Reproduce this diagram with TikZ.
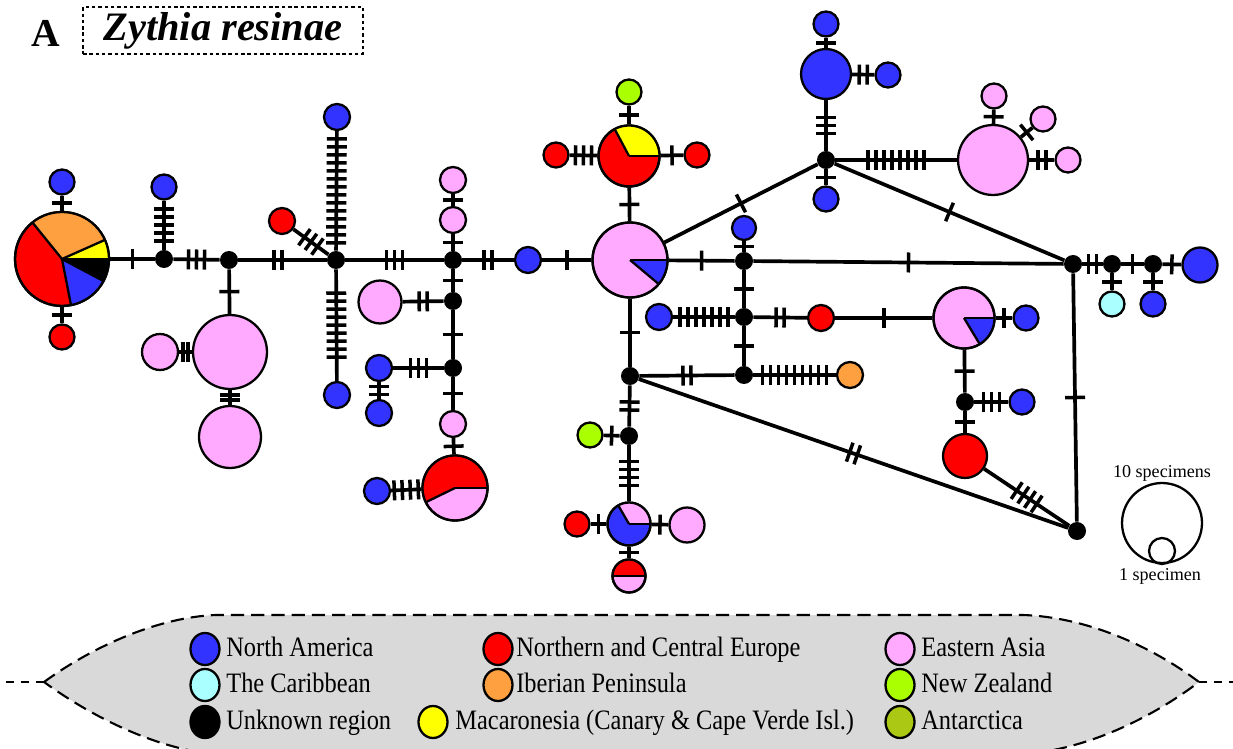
\documentclass[tikz,border=0pt]{standalone}
\usepackage{fontspec}
\usepackage{graphicx}
\setmainfont{Liberation Serif}
\usetikzlibrary{decorations.markings,shapes.geometric}

\definecolor{NA}{RGB}{51,51,255}
\definecolor{EU}{RGB}{255,0,0}
\definecolor{EA}{RGB}{255,170,255}
\definecolor{CA}{RGB}{170,255,255}
\definecolor{IB}{RGB}{255,160,64}
\definecolor{NZ}{RGB}{170,255,0}
\definecolor{MA}{RGB}{255,255,0}
\definecolor{AN}{RGB}{170,200,20}
\definecolor{legbg}{RGB}{217,217,217}

\tikzset{
  hap/.style={circle, draw, line width=1.3pt, inner sep=0pt, minimum size=#1*0.04cm},
  med/.style={circle, fill=black, inner sep=0pt, minimum size=18*0.02cm},
  link/.style={line width=2.1pt},
  % n mutation ticks centred at a position along the link, with a given spacing
  mutg/.style n args={3}{postaction={decorate, decoration={markings,
      mark=at position #2 with {\foreach \k in {1,...,#1}{
        \draw[line width=2pt] ({(\k-(#1+1)/2)*#3},-10) -- ({(\k-(#1+1)/2)*#3},10);}}}}},
  mu/.style={mutg={#1}{0.5}{8}},
  mup/.style 2 args={mutg={#1}{#2}{8}},
  mutight/.style={mutg={2}{0.5}{4.8}},
  legdot/.style={ellipse, draw, line width=1.3pt, inner sep=0pt,
      minimum width=29*0.02cm, minimum height=32*0.02cm, fill=#1},
  legtext/.style={anchor=base west, inner sep=0pt, font=\fontsize{13.9}{16}\selectfont},
}

% coloured sector of a pie-chart haplotype
\newcommand\hapwedge[5]{%
  \fill[#5] (#1.center) -- ++(#3:#2) arc[start angle=#3, end angle=#4, radius=#2] -- cycle;}
% dividing spokes and outline of a pie-chart haplotype
\newcommand\hapspokes[3]{%
  \foreach \a in {#3} {\draw[line width=1.3pt] (#1.center) -- ++(\a:#2);}
  \draw[line width=1.3pt] (#1.center) circle[radius=#2];}
% one legend row entry
\newcommand\legitem[6]{%
  \node[legdot=#4] (#6dot) at (#1,#2) {};
  \node[legtext] (#6txt) at (#3,#2-7.5) {\scalebox{1}[1.15]{#5}};}

\begin{document}
\begin{tikzpicture}[x=0.02cm, y=0.02cm]
\useasboundingbox (0,0) rectangle (1233,-749);

% ---------- heading ----------
\node[font=\fontsize{22.5}{26}\selectfont\bfseries] (panel) at (46,-33) {A};
\node[draw, dash pattern=on 2pt off 1.6pt, line width=1.1pt, inner sep=0pt,
      minimum width=280*0.02cm, minimum height=47*0.02cm,
      font=\fontsize{23}{26}\selectfont\bfseries\itshape] (species) at (223,-30.5) {Zythia resinae};

% ---------- haplotypes: left cluster ----------
\node[hap=47, fill=EU] (pA) at (62,-259) {};
\node[hap=12.5, fill=NA] (nA1) at (62,-182) {};
\node[hap=12.5, fill=EU] (nA2) at (62,-337) {};
\node[med] (m1) at (164,-259) {};
\node[hap=12.5, fill=NA] (nB) at (164,-187) {};
\node[med] (m2) at (229,-260) {};
\node[hap=37, fill=EA] (pC) at (230,-352) {};
\node[hap=18, fill=EA] (nC1) at (160,-352) {};
\node[hap=31, fill=EA] (pD) at (230,-437) {};
\node[med] (H) at (336,-260) {};
\node[hap=13, fill=NA] (nE1) at (337,-117) {};
\node[hap=13, fill=NA] (nE2) at (337,-395) {};
\node[hap=13, fill=EU] (nE3) at (282,-221) {};
\node[med] (m3) at (453,-260) {};
\node[hap=13, fill=EA] (nF1) at (453,-220) {};
\node[hap=13, fill=EA] (nF2) at (453,-180) {};
\node[med] (m4) at (453,-301) {};
\node[hap=21.5, fill=EA] (nG) at (380,-302) {};
\node[med] (m5) at (453,-368) {};
\node[hap=13, fill=NA] (nH1) at (379,-368) {};
\node[hap=13, fill=NA] (nH2) at (379,-413) {};
\node[hap=13, fill=EA] (nI) at (453,-424) {};
\node[hap=32.5, fill=EA] (pJ) at (455,-488) {};
\node[hap=13, fill=NA] (nK) at (377,-491) {};
\node[hap=13, fill=NA] (nL) at (528,-260) {};

% ---------- haplotypes: centre ----------
\node[hap=37.5, fill=EA] (P1) at (630,-260) {};
\node[hap=30.5, fill=EU] (P2) at (629,-156) {};
\node[hap=12.5, fill=NZ] (nM1) at (629,-92) {};
\node[hap=12.5, fill=EU] (nM2) at (556,-155) {};
\node[hap=12.5, fill=EU] (nM3) at (697,-155) {};
\node[med] (m6) at (744,-261) {};
\node[med] (TH) at (826,-160) {};
\node[hap=12, fill=NA] (nN) at (744,-228) {};
\node[med] (m7) at (744,-317) {};
\node[hap=13, fill=NA] (nO) at (659,-317) {};
\node[hap=13, fill=EU] (nP) at (821,-318) {};
\node[hap=30.5, fill=EA] (P3) at (964,-318) {};
\node[med] (m8) at (744,-375) {};
\node[med] (m9) at (630,-376) {};
\node[hap=13, fill=IB] (nQ) at (850,-375) {};
\node[med] (BN) at (1077,-531) {};
\node[med] (m10) at (629,-436) {};
\node[hap=12.5, fill=NZ] (nR) at (590,-435) {};
\node[hap=21.5, fill=NA] (P4) at (629,-524) {};
\node[hap=12.5, fill=EU] (nS1) at (577,-524) {};
\node[hap=17.5, fill=EA] (nS2) at (687,-525) {};
\node[hap=16.5, fill=EA] (P5) at (629,-576) {};

% ---------- haplotypes: right ----------
\node[hap=25, fill=NA] (nT1) at (826,-74) {};
\node[hap=12.5, fill=NA] (nT2) at (826,-24) {};
\node[hap=12.5, fill=NA] (nT3) at (888,-75) {};
\node[hap=12.5, fill=NA] (nT4) at (826,-199) {};
\node[hap=35, fill=EA] (pU) at (993,-160) {};
\node[hap=12.5, fill=EA] (nU1) at (994,-96) {};
\node[hap=12.5, fill=EA] (nU2) at (1043,-119) {};
\node[hap=12.5, fill=EA] (nU3) at (1068,-160) {};
\node[med] (R1) at (1073,-264) {};
\node[med] (R2) at (1112,-264) {};
\node[hap=12.5, fill=CA] (nV1) at (1112,-304) {};
\node[med] (R3) at (1153,-264) {};
\node[hap=12.5, fill=NA] (nV2) at (1153,-304) {};
\node[hap=17.5, fill=NA] (nV3) at (1200,-265) {};
\node[hap=12.5, fill=NA] (nW1) at (1026,-318) {};
\node[med] (m11) at (965,-402) {};
\node[hap=12.5, fill=NA] (nW2) at (1022,-402) {};
\node[hap=22, fill=EU] (pX) at (965,-456) {};

% ---------- pie sectors ----------
\hapwedge{pA}{47}{24}{129}{IB}
\hapwedge{pA}{47}{0}{24}{MA}
\hapwedge{pA}{47}{-28}{0}{black}
\hapwedge{pA}{47}{-79}{-28}{NA}
\hapspokes{pA}{47}{129,24,0,-28,-79}
\hapwedge{P1}{37.5}{-40}{0}{NA}
\hapspokes{P1}{37.5}{-40,0}
\hapwedge{P2}{30.5}{0}{118}{MA}
\hapspokes{P2}{30.5}{0,118}
\hapwedge{pJ}{32.5}{0}{206}{EU}
\hapspokes{pJ}{32.5}{0,206}
\hapwedge{P3}{30.5}{-59}{0}{NA}
\hapspokes{P3}{30.5}{-59,0}
\hapwedge{P4}{21.5}{0}{120}{EA}
\hapspokes{P4}{21.5}{0,120}
\hapwedge{P5}{16.5}{0}{180}{EU}
\hapspokes{P5}{16.5}{0,180}

% ---------- links with mutation steps ----------
\draw[link, mu=1] (pA) -- (nA1);
\draw[link, mu=1] (pA) -- (nA2);
\draw[link, mu=1] (pA) -- (m1);
\draw[link, mu=5] (m1) -- (nB);
\draw[link, mu=3] (m1) -- (m2);
\draw[link, mu=1] (m2) -- (pC);
\draw[link, mutight] (pC) -- (nC1);
\draw[link, mutight] (pC) -- (pD);
\draw[link, mup={2}{0.45}] (m2) -- (H);
\draw[link, mu=14] (H) -- (nE1);
\draw[link, mu=9] (H) -- (nE2);
\draw[link, mu=3] (H) -- (nE3);
\draw[link, mu=3] (H) -- (m3);
\draw[link, mu=1] (m3) -- (nF1);
\draw[link, mu=1] (nF1) -- (nF2);
\draw[link, mu=1] (m3) -- (m4);
\draw[link, mu=2] (m4) -- (nG);
\draw[link, mu=1] (m4) -- (m5);
\draw[link, mu=3] (m5) -- (nH1);
\draw[link, mu=2] (nH1) -- (nH2);
\draw[link, mu=1] (m5) -- (nI);
\draw[link, mu=1] (nI) -- (pJ);
\draw[link, mu=4] (pJ) -- (nK);
\draw[link, mu=2] (m3) -- (nL);
\draw[link, mu=1] (nL) -- (P1);
\draw[link, mu=1] (P1) -- (P2);
\draw[link, mu=1] (P2) -- (nM1);
\draw[link, mu=3] (P2) -- (nM2);
\draw[link, mu=1] (P2) -- (nM3);
\draw[link, mu=1] (P1) -- (m6);
\draw[link, mu=1] (P1) -- (TH);
\draw[link, mu=1] (m6) -- (nN);
\draw[link, mu=1] (m6) -- (m7);
\draw[link, mu=7] (m7) -- (nO);
\draw[link, mu=2] (m7) -- (nP);
\draw[link, mu=1] (nP) -- (P3);
\draw[link, mu=1] (m7) -- (m8);
\draw[link, mu=1] (P1) -- (m9);
\draw[link, mu=2] (m9) -- (m8);
\draw[link, mu=9] (m8) -- (nQ);
\draw[link, mu=2] (m9) -- (BN);
\draw[link, mu=2] (m9) -- (m10);
\draw[link, mu=1] (m10) -- (nR);
\draw[link, mu=4] (m10) -- (P4);
\draw[link, mu=1] (P4) -- (nS1);
\draw[link, mu=1] (P4) -- (nS2);
\draw[link, mu=1] (P4) -- (P5);
\draw[link, mu=3] (TH) -- (nT1);
\draw[link, mu=1] (nT1) -- (nT2);
\draw[link, mu=2] (nT1) -- (nT3);
\draw[link, mu=1] (TH) -- (nT4);
\draw[link, mu=8] (TH) -- (pU);
\draw[link, mu=1] (pU) -- (nU1);
\draw[link, mu=1] (pU) -- (nU2);
\draw[link, mu=2] (pU) -- (nU3);
\draw[link, mu=1] (TH) -- (R1);
\draw[link, mu=1] (m6) -- (R1);
\draw[link, mu=2] (R1) -- (R2);
\draw[link, mu=1] (R2) -- (nV1);
\draw[link, mu=1] (R2) -- (R3);
\draw[link, mu=1] (R3) -- (nV2);
\draw[link, mu=1] (R3) -- (nV3);
\draw[link, mu=1] (R1) -- (BN);
\draw[link, mu=1] (P3) -- (nW1);
\draw[link, mu=1] (P3) -- (m11);
\draw[link, mu=3] (m11) -- (nW2);
\draw[link, mu=1] (m11) -- (pX);
\draw[link, mu=4] (pX) -- (BN);

% ---------- size scale ----------
\node[hap=40] (scaleBig) at (1162,-523) {};
\node[hap=13] (scaleSmall) at (1162,-551) {};
\node[font=\fontsize{10.3}{12}\selectfont, inner sep=0pt] (scaleTen) at (1162,-473) {10 specimens};
\node[font=\fontsize{10.3}{12}\selectfont, inner sep=0pt] (scaleOne) at (1160,-576) {1 specimen};

% ---------- legend ----------
\coordinate (tipL) at (44,-682);
\coordinate (tipR) at (1199,-682);
\coordinate (endL) at (6,-682);
\coordinate (endR) at (1233,-682);
\path[fill=legbg, draw, line width=1.2pt, dash pattern=on 7.5pt off 4pt]
  (tipL) .. controls (95,-645) and (160,-617) .. (216,-615) -- (1023,-615)
  .. controls (1085,-617) and (1150,-645) .. (tipR)
  .. controls (1150,-719) and (1085,-750) .. (1023,-754) -- (216,-754)
  .. controls (160,-750) and (95,-719) .. (tipL) -- cycle;
\draw[line width=1.2pt, dash pattern=on 4.5pt off 4pt] (endL) -- (tipL);
\draw[line width=1.2pt, dash pattern=on 4.5pt off 4pt] (tipR) -- (endR);

\legitem{205}{-649}{226}{NA}{North America}{na}
\legitem{205}{-685}{226}{CA}{The Caribbean}{ca}
\legitem{205}{-722}{226}{black}{Unknown region}{un}
\legitem{498}{-649}{516}{EU}{Northern and Central Europe}{eu}
\legitem{498}{-685}{516}{IB}{Iberian Peninsula}{ib}
\legitem{433}{-722}{455}{MA}{Macaronesia (Canary \& Cape Verde Isl.)}{ma}
\legitem{900}{-649}{921}{EA}{Eastern Asia}{ea}
\legitem{900}{-685}{921}{NZ}{New Zealand}{nz}
\legitem{900}{-722}{921}{AN}{Antarctica}{an}
\end{tikzpicture}
\end{document}
